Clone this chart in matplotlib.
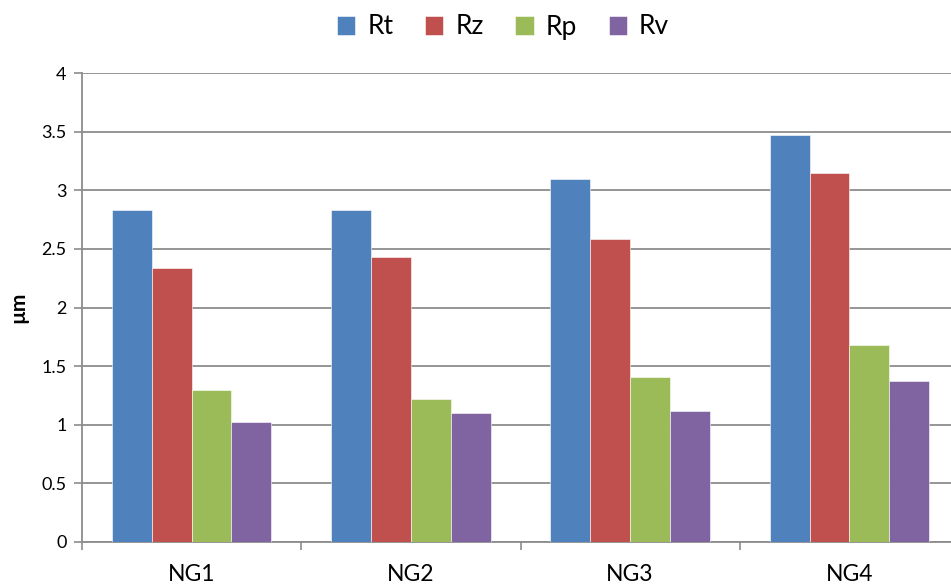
import numpy as np
import matplotlib.pyplot as plt

groups = ["NG1", "NG2", "NG3", "NG4"]
series = ["Rt", "Rz", "Rp", "Rv"]
rt = [2.83, 2.83, 3.10, 3.47]
rz = [2.34, 2.43, 2.58, 3.15]
rp = [1.30, 1.22, 1.41, 1.68]
rv = [1.02, 1.10, 1.12, 1.37]
colors = ["#4F81BD", "#C0504D", "#9BBB59", "#8064A2"]

plt.rcParams['font.family'] = ['Lato', 'DejaVu Sans']

fig = plt.figure(figsize=(9.51, 5.87), dpi=100)
W, H = 951, 587
# plot area runs past the right edge of the picture, as in the source
ax = fig.add_axes([82 / W, 1 - 542 / H, (959 - 82) / W, (542 - 73) / H])

x = np.arange(len(groups))
w = 1 / 5.5
for i, (name, vals) in enumerate(zip(series, [rt, rz, rp, rv])):
    ax.bar(x + (i - 1.5) * w, vals, w, color=colors[i], label=name,
           edgecolor="white", linewidth=0.4, zorder=3)

ax.set_xlim(-0.5, len(groups) - 0.5)
ax.set_ylim(0, 4)
ax.set_yticks(np.arange(0, 4.01, 0.5))
ax.set_yticklabels(["0", "0.5", "1", "1.5", "2", "2.5", "3", "3.5", "4"], fontsize=13)
ax.set_xticks(x)
ax.set_xticklabels(groups, fontsize=16.5)
ax.set_xticks(np.arange(-0.5, len(groups), 1), minor=True)
ax.tick_params(axis='x', which='major', length=0, pad=16)
ax.tick_params(axis='x', which='minor', length=6, color="#8c8c8c", width=1.2)
ax.tick_params(axis='y', length=6, color="#8c8c8c", width=1.2, pad=5)

ax.grid(axis='y', color="#8c8c8c", linewidth=1.3, zorder=0)
for s in ["top", "right"]:
    ax.spines[s].set_visible(False)
for s in ["left", "bottom"]:
    ax.spines[s].set_color("#8c8c8c")
    ax.spines[s].set_linewidth(1.3)

fig.text(18 / W, 1 - 307 / H, "µm", rotation=90, fontsize=15, fontweight="bold",
         ha="center", va="center")

fig.legend(loc="center", bbox_to_anchor=(503 / W, 1 - 27 / H), ncol=4, frameon=False,
           fontsize=19, handlelength=0.7, handleheight=0.7, columnspacing=1.2,
           handletextpad=0.45)

fig.savefig("out.png", dpi=100)
